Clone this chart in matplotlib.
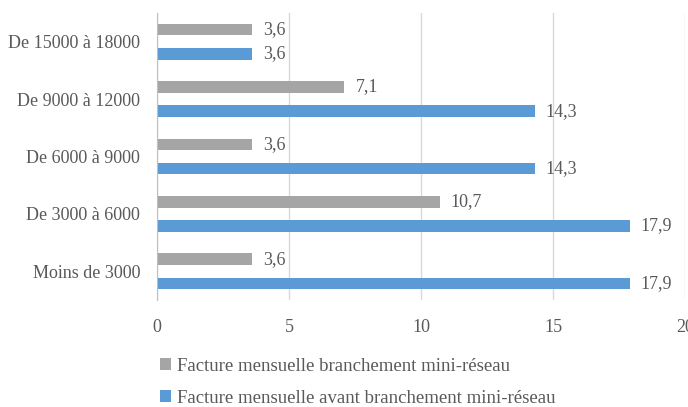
import matplotlib.pyplot as plt
import numpy as np

plt.rcParams['font.family'] = ['Liberation Serif', 'DejaVu Serif']

categories = ["Moins de 3000", "De 3000 à 6000", "De 6000 à 9000", "De 9000 à 12000", "De 15000 à 18000"]
apres = [3.6, 10.7, 3.6, 7.1, 3.6]
avant = [17.9, 17.9, 14.3, 14.3, 3.6]
labels = ["Facture mensuelle branchement mini-réseau", "Facture mensuelle avant branchement mini-réseau"]

gris = "#a5a5a5"
bleu = "#5b9bd5"
texte = "#595959"

fig = plt.figure(figsize=(6.88, 4.07), dpi=100)
ax = fig.add_axes([0.228, 0.263, 0.768, 0.705])

y = np.arange(len(categories))
b1 = ax.barh(y + 0.21, apres, height=0.2, color=gris, label=labels[0])
b2 = ax.barh(y - 0.21, avant, height=0.2, color=bleu, label=labels[1])

for bars, vals in [(b1, apres), (b2, avant)]:
    for bar, v in zip(bars, vals):
        ax.annotate(f"{v:.1f}".replace(".", ","), (v, bar.get_y() + bar.get_height() / 2),
                    xytext=(8, 0), textcoords="offset points", va="center", ha="left",
                    fontsize=13, color=texte)

ax.set_xlim(0, 20)
ax.set_ylim(-0.5, 4.5)
ax.set_xticks([0, 5, 10, 15, 20])
ax.set_yticks(y)
ax.set_yticklabels(categories)
ax.tick_params(length=0, labelsize=13, colors=texte)
ax.tick_params(axis="x", pad=14)
ax.tick_params(axis="y", pad=12)
ax.grid(axis="x", color="#d9d9d9", linewidth=1)
ax.set_axisbelow(True)
for s in ["top", "right", "bottom"]:
    ax.spines[s].set_visible(False)
ax.spines["left"].set_color("#bfbfbf")

fig.legend(handles=[b1, b2], loc="upper left", bbox_to_anchor=(0.208, 0.163), frameon=False,
           fontsize=13.5, labelcolor=texte, handlelength=0.6, handleheight=0.6,
           handletextpad=0.3, labelspacing=0.8)

fig.savefig("out.png", dpi=100)
